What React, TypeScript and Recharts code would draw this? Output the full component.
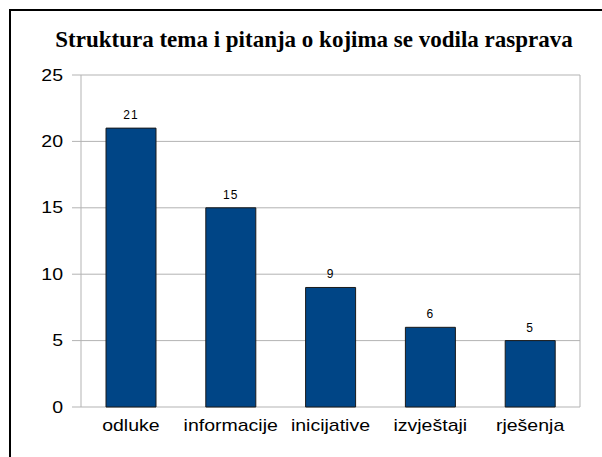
import React from 'react';
import { BarChart, Bar, XAxis, YAxis, CartesianGrid, LabelList } from 'recharts';

const categories = ['odluke', 'informacije', 'inicijative', 'izvještaji', 'rješenja'];
const counts = [21, 15, 9, 6, 5];
const yTicks = [0, 5, 10, 15, 20, 25];
const slotTicks = [0, 1, 2, 3, 4, 5];

const data = categories.map((name, i) => ({ name, value: counts[i] }));

const GRID = '#b3b3b3';
const SANS = '"Liberation Sans", Arial, sans-serif';

const CatTick = ({ x, y, payload }: any) => (
  <text
    x={0}
    y={0}
    transform={`translate(${x},${y}) scale(1.22,1)`}
    textAnchor="middle"
    dy="0.71em"
    fontSize={16}
    fontFamily={SANS}
    fill="#000"
  >
    {payload.value}
  </text>
);

const ValueTick = ({ x, y, payload }: any) => (
  <text
    x={0}
    y={0}
    transform={`translate(${x},${y}) scale(1.22,1)`}
    textAnchor="end"
    dy="0.355em"
    fontSize={16}
    fontFamily={SANS}
    fill="#000"
  >
    {payload.value}
  </text>
);

export default function App() {
  return (
    <div style={{ position: 'absolute', left: 0, top: 0, width: 602, height: 457, background: '#fff', overflow: 'hidden' }}>
      <div
        style={{
          position: 'absolute',
          left: 9,
          top: 9,
          width: 700,
          height: 600,
          borderTop: '2px solid #000',
          borderLeft: '2px solid #000',
        }}
      />
      <div
        style={{
          position: 'absolute',
          left: 0,
          top: 28,
          width: 628,
          textAlign: 'center',
          fontFamily: '"Liberation Serif", "Times New Roman", serif',
          fontWeight: 'bold',
          fontSize: 23,
          lineHeight: '23px',
          whiteSpace: 'nowrap',
          color: '#000',
        }}
      >
        Struktura tema i pitanja o kojima se vodila rasprava
      </div>
      <div style={{ position: 'absolute', left: 0, top: 0 }}>
        <BarChart width={602} height={457} data={data} margin={{ top: 75, right: 22, left: 0, bottom: 10 }}>
          <CartesianGrid xAxisId="slot" stroke={GRID} strokeWidth={1} />
          <XAxis
            xAxisId="slot"
            type="number"
            domain={[0, 5]}
            ticks={slotTicks}
            height={10}
            tickSize={10}
            tickLine={{ stroke: GRID }}
            axisLine={false}
            tick={false}
          />
          <XAxis
            xAxisId="cat"
            dataKey="name"
            height={30}
            tickSize={0}
            tickMargin={13}
            axisLine={false}
            tickLine={false}
            tick={<CatTick />}
            interval={0}
          />
          <YAxis
            width={81}
            domain={[0, 25]}
            ticks={yTicks}
            tickSize={9}
            tickMargin={9}
            tickLine={{ stroke: GRID }}
            axisLine={false}
            tick={<ValueTick />}
          />
          <Bar
            xAxisId="cat"
            dataKey="value"
            barSize={50}
            fill="#004586"
            stroke="#1a1a1a"
            strokeWidth={1}
            isAnimationActive={false}
          >
            <LabelList
              dataKey="value"
              position="top"
              offset={9}
              fontSize={12}
              fontFamily={SANS}
              fill="#000"
              letterSpacing={1}
            />
          </Bar>
        </BarChart>
      </div>
    </div>
  );
}
